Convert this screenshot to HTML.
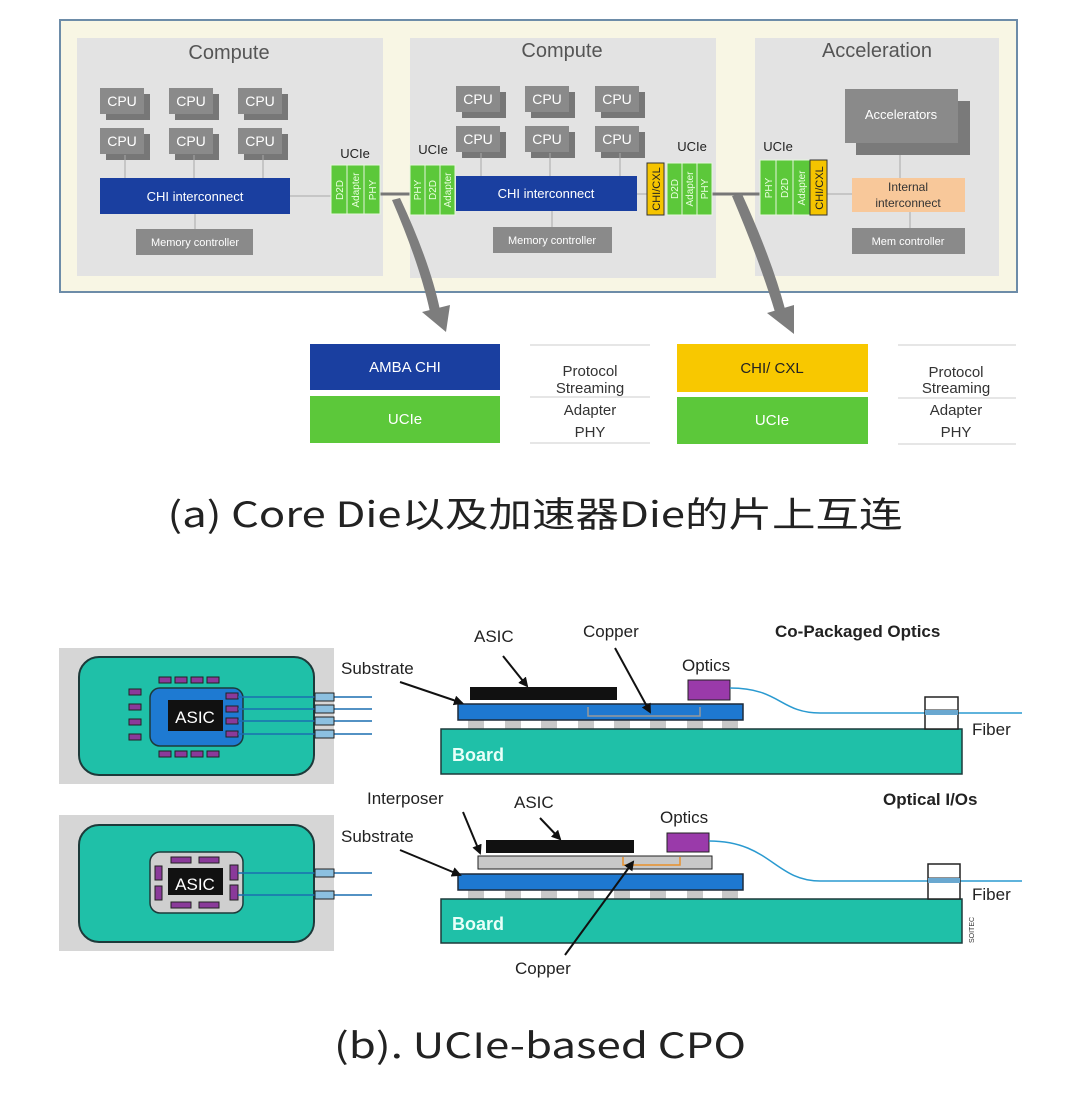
<!DOCTYPE html>
<html><head><meta charset="utf-8"><style>
html,body{margin:0;padding:0;background:#fff;}
svg{display:block;}
text{font-family:"Liberation Sans",Arial,sans-serif;}
.cap{font-family:"Noto Sans CJK SC","Liberation Sans",sans-serif;}
</style></head><body>
<svg width="1080" height="1094" viewBox="0 0 1080 1094" xmlns="http://www.w3.org/2000/svg">
<defs>
<marker id="ah" markerWidth="10" markerHeight="10" refX="8" refY="5" orient="auto" markerUnits="userSpaceOnUse"><path d="M0,0 L10,5 L0,10 Z" fill="#111"/></marker>
<g id="c1"><rect x="6" y="6" width="44" height="26" fill="#777"/><rect x="0" y="0" width="44" height="26" fill="#8a8a8a"/><text x="22" y="18" font-size="14" fill="#fff" text-anchor="middle">CPU</text></g>
</defs>
<!-- top frame -->
<rect x="60" y="20" width="957" height="272" fill="#f8f6e4" stroke="#6d8ca8" stroke-width="2"/>
<rect x="77" y="38" width="306" height="238" fill="#e3e3e3"/>
<rect x="410" y="38" width="306" height="240" fill="#e3e3e3"/>
<rect x="755" y="38" width="244" height="238" fill="#e3e3e3"/>
<g fill="#555" font-size="20" text-anchor="middle">
<text x="229" y="59">Compute</text><text x="562" y="57">Compute</text><text x="877" y="57">Acceleration</text></g>
<!-- CPUs -->
<use href="#c1" x="100" y="88"/><use href="#c1" x="169" y="88"/><use href="#c1" x="238" y="88"/>
<use href="#c1" x="100" y="128"/><use href="#c1" x="169" y="128"/><use href="#c1" x="238" y="128"/>
<use href="#c1" x="456" y="86"/><use href="#c1" x="525" y="86"/><use href="#c1" x="595" y="86"/>
<use href="#c1" x="456" y="126"/><use href="#c1" x="525" y="126"/><use href="#c1" x="595" y="126"/>
<g stroke="#aaa" stroke-width="1">
<line x1="125" y1="155" x2="125" y2="178"/><line x1="194" y1="155" x2="194" y2="178"/><line x1="263" y1="155" x2="263" y2="178"/>
<line x1="481" y1="153" x2="481" y2="176"/><line x1="550" y1="153" x2="550" y2="176"/><line x1="620" y1="153" x2="620" y2="176"/>
<line x1="195" y1="214" x2="195" y2="229"/><line x1="552" y1="211" x2="552" y2="227"/>
<line x1="290" y1="196" x2="331" y2="196"/><line x1="637" y1="194" x2="647" y2="194"/>
<line x1="827" y1="194" x2="852" y2="194"/><line x1="900" y1="155" x2="900" y2="178"/><line x1="910" y1="212" x2="910" y2="228"/>
</g>
<g stroke="#777" stroke-width="3"><line x1="380" y1="194" x2="410" y2="194"/><line x1="712" y1="194" x2="760" y2="194"/></g>
<g fill="#fff" font-size="13" text-anchor="middle">
<rect x="100" y="178" width="190" height="36" fill="#1a3fa0"/><text x="195" y="201">CHI interconnect</text>
<rect x="456" y="176" width="181" height="35" fill="#1a3fa0"/><text x="546" y="198">CHI interconnect</text>
</g>
<g fill="#fff" font-size="11" text-anchor="middle">
<rect x="136" y="229" width="117" height="26" fill="#8a8a8a"/><text x="195" y="246">Memory controller</text>
<rect x="493" y="227" width="119" height="26" fill="#8a8a8a"/><text x="552" y="244">Memory controller</text>
<rect x="852" y="228" width="113" height="26" fill="#8a8a8a"/><text x="908" y="245">Mem controller</text>
<rect x="856" y="101" width="114" height="54" fill="#7a7a7a"/><rect x="845" y="89" width="113" height="54" fill="#8a8a8a"/>
</g>
<text x="901" y="119" fill="#fff" font-size="13" text-anchor="middle">Accelerators</text>
<rect x="852" y="178" width="113" height="34" fill="#f8c89a"/>
<text x="908" y="191" font-size="12" fill="#333" text-anchor="middle">Internal</text>
<text x="908" y="207" font-size="12" fill="#333" text-anchor="middle">interconnect</text>
<!-- UCIe labels -->
<g font-size="13" fill="#222" text-anchor="middle"><text x="355" y="158">UCIe</text><text x="433" y="154">UCIe</text><text x="692" y="151">UCIe</text><text x="778" y="151">UCIe</text></g>
<!-- green blocks -->
<g fill="#5cc83a" stroke="#e6f5dd" stroke-width="1">
<rect x="331" y="165" width="16" height="49"/><rect x="347" y="165" width="17" height="49"/><rect x="364" y="165" width="16" height="49"/>
<rect x="410" y="165" width="15" height="50"/><rect x="425" y="165" width="15" height="50"/><rect x="440" y="165" width="15" height="50"/>
<rect x="667" y="163" width="15" height="52"/><rect x="682" y="163" width="15" height="52"/><rect x="697" y="163" width="15" height="52"/>
<rect x="760" y="160" width="16" height="55"/><rect x="776" y="160" width="17" height="55"/><rect x="793" y="160" width="17" height="55"/>
</g>
<rect x="647" y="163" width="17" height="52" fill="#f5c400" stroke="#333" stroke-width="1"/>
<rect x="810" y="160" width="17" height="55" fill="#f5c400" stroke="#333" stroke-width="1"/>
<g fill="#eaffe0" font-size="10" text-anchor="middle">
<text transform="translate(343,190) rotate(-90)">D2D</text><text transform="translate(359,190) rotate(-90)">Adapter</text><text transform="translate(376,190) rotate(-90)">PHY</text>
<text transform="translate(421,190) rotate(-90)">PHY</text><text transform="translate(436,190) rotate(-90)">D2D</text><text transform="translate(451,190) rotate(-90)">Adapter</text>
<text transform="translate(678,189) rotate(-90)">D2D</text><text transform="translate(693,189) rotate(-90)">Adapter</text><text transform="translate(708,189) rotate(-90)">PHY</text>
<text transform="translate(772,188) rotate(-90)">PHY</text><text transform="translate(788,188) rotate(-90)">D2D</text><text transform="translate(805,188) rotate(-90)">Adapter</text>
</g>
<g fill="#222" font-size="11" text-anchor="middle">
<text transform="translate(660,189) rotate(-90)">CHI/CXL</text><text transform="translate(823,188) rotate(-90)">CHI/CXL</text></g>
<!-- curved arrows -->
<path d="M392,200 Q420,265 430,312 L440,310 Q430,262 400,198 Z" fill="#7d7d7d"/>
<path d="M422,312 L450,305 L446,332 Z" fill="#7d7d7d"/>
<path d="M732,196 Q760,262 775,312 L785,309 Q772,260 742,194 Z" fill="#7d7d7d"/>
<path d="M767,313 L794,305 L794,334 Z" fill="#7d7d7d"/>
<!-- stack -->
<rect x="310" y="344" width="190" height="46" fill="#1a3fa0"/><text x="405" y="372" fill="#fff" font-size="15" text-anchor="middle">AMBA CHI</text>
<rect x="310" y="396" width="190" height="47" fill="#5cc83a"/><text x="405" y="424" fill="#fff" font-size="15" text-anchor="middle">UCIe</text>
<rect x="677" y="344" width="191" height="48" fill="#f8c800"/><text x="772" y="373" fill="#222" font-size="15" text-anchor="middle">CHI/ CXL</text>
<rect x="677" y="397" width="191" height="47" fill="#5cc83a"/><text x="772" y="425" fill="#fff" font-size="15" text-anchor="middle">UCIe</text>
<g stroke="#ccc" stroke-width="1"><line x1="530" y1="345" x2="650" y2="345"/><line x1="530" y1="397" x2="650" y2="397"/><line x1="530" y1="443" x2="650" y2="443"/>
<line x1="898" y1="345" x2="1016" y2="345"/><line x1="898" y1="398" x2="1016" y2="398"/><line x1="898" y1="444" x2="1016" y2="444"/></g>
<g font-size="15" fill="#333" text-anchor="middle">
<text x="590" y="376">Protocol</text><text x="590" y="393">Streaming</text><text x="590" y="415">Adapter</text><text x="590" y="437">PHY</text>
<text x="956" y="377">Protocol</text><text x="956" y="393">Streaming</text><text x="956" y="415">Adapter</text><text x="956" y="437">PHY</text></g>
<text class="cap" x="535" y="527" font-size="35" fill="#222" text-anchor="middle" textLength="735" lengthAdjust="spacingAndGlyphs">(a) Core Die以及加速器Die的片上互连</text>

<!-- bottom left packages -->
<rect x="59" y="648" width="275" height="136" fill="#d6d6d6"/>
<rect x="79" y="657" width="235" height="118" rx="20" fill="#1fc0a8" stroke="#1d3a3a" stroke-width="2"/>
<rect x="150" y="688" width="93" height="58" rx="10" fill="#1e7ad2" stroke="#1d3a3a" stroke-width="1.5"/>
<rect x="168" y="700" width="55" height="31" fill="#111"/><text x="195" y="723" fill="#fff" font-size="17" text-anchor="middle">ASIC</text>
<g fill="#8a3a9a" stroke="#222" stroke-width="1">
<rect x="159" y="677" width="12" height="6"/><rect x="175" y="677" width="12" height="6"/><rect x="191" y="677" width="12" height="6"/><rect x="207" y="677" width="12" height="6"/>
<rect x="159" y="751" width="12" height="6"/><rect x="175" y="751" width="12" height="6"/><rect x="191" y="751" width="12" height="6"/><rect x="207" y="751" width="12" height="6"/>
<rect x="129" y="689" width="12" height="6"/><rect x="129" y="704" width="12" height="6"/><rect x="129" y="719" width="12" height="6"/><rect x="129" y="734" width="12" height="6"/>
<rect x="226" y="693" width="12" height="6"/><rect x="226" y="706" width="12" height="6"/><rect x="226" y="718" width="12" height="6"/><rect x="226" y="731" width="12" height="6"/>
</g>
<g stroke="#1a6fb0" stroke-width="1.5"><line x1="238" y1="697" x2="372" y2="697"/><line x1="238" y1="709" x2="372" y2="709"/><line x1="238" y1="721" x2="372" y2="721"/><line x1="238" y1="734" x2="372" y2="734"/></g>
<g fill="#8cc0e0" stroke="#222"><rect x="315" y="693" width="19" height="8"/><rect x="315" y="705" width="19" height="8"/><rect x="315" y="717" width="19" height="8"/><rect x="315" y="730" width="19" height="8"/></g>

<rect x="59" y="815" width="275" height="136" fill="#d6d6d6"/>
<rect x="79" y="825" width="235" height="117" rx="20" fill="#1fc0a8" stroke="#1d3a3a" stroke-width="2"/>
<rect x="150" y="852" width="93" height="61" rx="10" fill="#cfcfcf" stroke="#1d3a3a" stroke-width="1.5"/>
<rect x="168" y="868" width="55" height="27" fill="#111"/><text x="195" y="890" fill="#fff" font-size="17" text-anchor="middle">ASIC</text>
<g fill="#8a3a9a" stroke="#222" stroke-width="1">
<rect x="171" y="857" width="20" height="6"/><rect x="199" y="857" width="20" height="6"/><rect x="171" y="902" width="20" height="6"/><rect x="199" y="902" width="20" height="6"/>
<rect x="155" y="866" width="7" height="14"/><rect x="155" y="886" width="7" height="14"/><rect x="230" y="865" width="8" height="15"/><rect x="230" y="885" width="8" height="15"/>
</g>
<g stroke="#1a6fb0" stroke-width="1.5"><line x1="238" y1="873" x2="372" y2="873"/><line x1="238" y1="895" x2="372" y2="895"/></g>
<g fill="#8cc0e0" stroke="#222"><rect x="315" y="869" width="19" height="8"/><rect x="315" y="891" width="19" height="8"/></g>

<!-- cross section labels -->
<g font-size="17" fill="#222">
<text x="474" y="642">ASIC</text><text x="583" y="637">Copper</text><text x="682" y="671">Optics</text><text x="341" y="674">Substrate</text>
<text x="367" y="804">Interposer</text><text x="514" y="808">ASIC</text><text x="660" y="823">Optics</text><text x="341" y="842">Substrate</text><text x="515" y="974">Copper</text>
<text x="972" y="735">Fiber</text><text x="972" y="900">Fiber</text></g>
<g font-size="17" font-weight="bold" fill="#222"><text x="775" y="637">Co-Packaged Optics</text><text x="883" y="805">Optical I/Os</text></g>
<!-- bumps -->
<g fill="#c8c8c8"><rect x="468" y="720" width="16" height="9"/><rect x="505" y="720" width="16" height="9"/><rect x="541" y="720" width="16" height="9"/><rect x="578" y="720" width="16" height="9"/><rect x="614" y="720" width="16" height="9"/><rect x="650" y="720" width="16" height="9"/><rect x="687" y="720" width="16" height="9"/><rect x="722" y="720" width="16" height="9"/>
<rect x="468" y="890" width="16" height="9"/><rect x="505" y="890" width="16" height="9"/><rect x="541" y="890" width="16" height="9"/><rect x="578" y="890" width="16" height="9"/><rect x="614" y="890" width="16" height="9"/><rect x="650" y="890" width="16" height="9"/><rect x="687" y="890" width="16" height="9"/><rect x="722" y="890" width="16" height="9"/></g>
<rect x="470" y="687" width="147" height="13" fill="#111"/>
<rect x="458" y="704" width="285" height="16" fill="#1e78d0" stroke="#1d2a3a" stroke-width="1.5"/>
<rect x="688" y="680" width="42" height="20" fill="#9a3aaa" stroke="#222"/>
<path d="M588,707 V716 H700 V707" fill="none" stroke="#999" stroke-width="1.5"/>
<rect x="441" y="729" width="521" height="45" fill="#1fc0a8" stroke="#1d3a3a" stroke-width="1.5"/>
<text x="452" y="761" font-size="18" font-weight="bold" fill="#e8fff8">Board</text>
<path d="M730,688 C780,688 780,713 820,713 L1022,713" fill="none" stroke="#2a9ad0" stroke-width="1.5"/>
<rect x="925" y="697" width="33" height="32" fill="#fff" stroke="#222" stroke-width="1.5"/><line x1="925" y1="710" x2="958" y2="710" stroke="#222"/><rect x="925" y="710" width="33" height="5" fill="#6aa8d0"/>
<!-- cross section bottom -->
<rect x="486" y="840" width="148" height="13" fill="#111"/>
<rect x="478" y="856" width="234" height="13" fill="#c8c8c8" stroke="#222" stroke-width="1"/>
<path d="M623,857 V865 H680 V857" fill="none" stroke="#e8902a" stroke-width="1.5"/>
<rect x="458" y="874" width="285" height="16" fill="#1e78d0" stroke="#1d2a3a" stroke-width="1.5"/>
<rect x="667" y="833" width="42" height="19" fill="#9a3aaa" stroke="#222"/>
<rect x="441" y="899" width="521" height="44" fill="#1fc0a8" stroke="#1d3a3a" stroke-width="1.5"/>
<text x="452" y="930" font-size="18" font-weight="bold" fill="#e8fff8">Board</text>
<path d="M709,841 C770,841 775,881 820,881 L1022,881" fill="none" stroke="#2a9ad0" stroke-width="1.5"/>
<rect x="928" y="864" width="32" height="35" fill="#fff" stroke="#222" stroke-width="1.5"/><line x1="928" y1="878" x2="960" y2="878" stroke="#222"/><rect x="928" y="878" width="32" height="5" fill="#6aa8d0"/>
<text transform="translate(974,943) rotate(-90)" font-size="7" fill="#333">SOITEC</text>
<!-- arrows -->
<g stroke="#111" stroke-width="2" fill="none" marker-end="url(#ah)">
<line x1="503" y1="656" x2="527" y2="686"/><line x1="615" y1="648" x2="650" y2="712"/><line x1="400" y1="682" x2="462" y2="703"/>
<line x1="463" y1="812" x2="480" y2="853"/><line x1="540" y1="818" x2="560" y2="839"/><line x1="400" y1="850" x2="460" y2="875"/>
<line x1="565" y1="955" x2="633" y2="862"/></g>
<text class="cap" x="540" y="1058" font-size="35" fill="#222" text-anchor="middle" textLength="412" lengthAdjust="spacingAndGlyphs">(b). UCIe-based CPO</text>
</svg>
</body></html>
